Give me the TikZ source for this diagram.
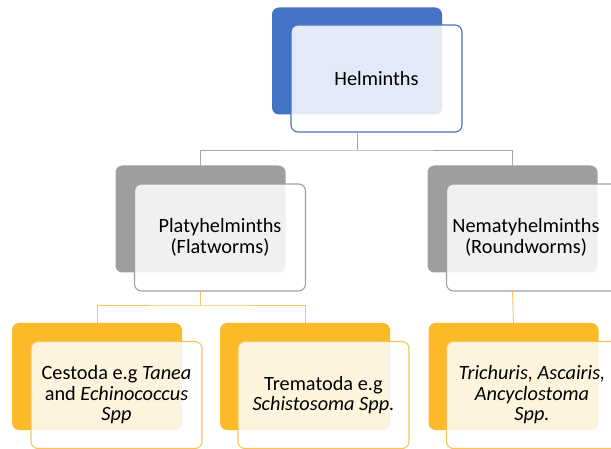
\documentclass[tikz,border=0pt]{standalone}
\usepackage{fontspec}
\setmainfont{Carlito}
\usetikzlibrary{positioning}
\definecolor{helmblue}{RGB}{68,114,196}
\definecolor{wormgray}{RGB}{158,158,158}
\definecolor{linegray}{RGB}{166,166,166}
\definecolor{taxaorange}{RGB}{252,186,40}
\definecolor{lineorange}{RGB}{249,195,90}

\begin{document}
\begin{tikzpicture}[x=1pt, y=-1pt,
        every node/.style={font=\fontsize{20.3}{20.5}\selectfont, align=center},
        back/.style={rounded corners=7pt, minimum width=170pt, minimum height=107pt, inner sep=0pt},
        front/.style={rounded corners=7pt, minimum width=171pt, minimum height=107pt, inner sep=0pt,
            fill=white, fill opacity=0.85, text opacity=1, line width=1.1pt},
        grayline/.style={draw=linegray, line width=0.9pt},
        orangeline/.style={draw=lineorange, line width=0.9pt}]
        \useasboundingbox (0,0) rectangle (611,449);
        \clip (0,0) rectangle (611,449);
        % top level
        \node[back, fill=helmblue] (helmB) at (357,61) {};
        \node[front, draw=helmblue] (helm) at (376.5,78.5) {Helminths};
        % second level
        \node[back, fill=wormgray] (platyB) at (200.5,219) {};
        \node[front, draw=wormgray] (platy) at (220,237.5) {Platyhelminths\\(Flatworms)};
        \node[back, fill=wormgray] (nemaB) at (512.5,219) {};
        \node[front, draw=wormgray] (nema) at (532,237.5) {};
        \node (nemaT) at ([xshift=-6pt]nema.center) {Nematyhelminths\\(Roundworms)};
        % third level
        \node[back, fill=taxaorange] (cestB) at (97,376.5) {};
        \node[front, draw=lineorange] (cest) at (116.5,395) {Cestoda e.g \textit{Tanea}\\and \textit{Echinococcus}\\\textit{Spp}};
        \node[back, fill=taxaorange] (tremB) at (305,376.5) {};
        \node[front, draw=lineorange] (trem) at (323.5,395) {Trematoda e.g\\\textit{Schistosoma Spp.}};
        \node[back, fill=taxaorange] (trichB) at (513.5,376.5) {};
        \node[front, draw=lineorange] (trich) at (532,395) {\textit{Trichuris, Ascairis,}\\\textit{Ancyclostoma}\\\textit{Spp.}};
        % connectors
        \coordinate (split1) at (357,150);
        \coordinate (split2) at (200.5,305);
        \draw[grayline] (helmB |- helm.south) -- (split1);
        \draw[grayline] (platyB.north) |- (split1) -| (nemaB.north);
        \draw[orangeline] (platyB |- platy.south) -- (split2);
        \draw[orangeline] (cestB.north) |- (split2) -| (tremB.north);
        \draw[orangeline] (nemaB |- nema.south) -- (trichB.north);
    \end{tikzpicture}
\end{document}
